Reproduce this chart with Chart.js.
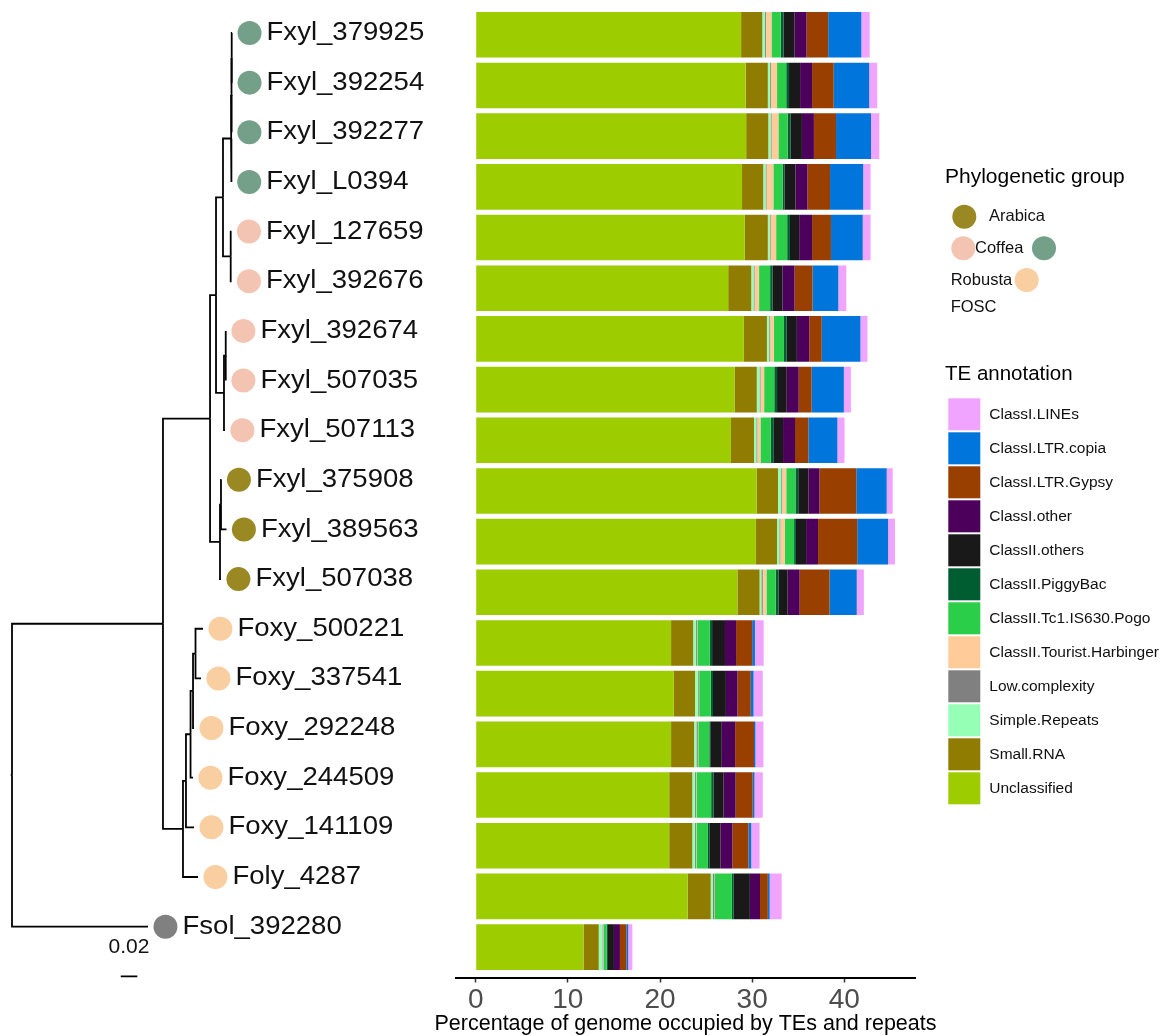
<!DOCTYPE html>
<html>
<head>
<meta charset="utf-8">
<script src="https://cdn.jsdelivr.net/npm/chart.js@4.4.1/dist/chart.umd.min.js"></script>
<style>
  html, body { margin: 0; padding: 0; background: #ffffff; }
  #wrap { position: relative; width: 1166px; height: 1036px; overflow: hidden; background: #ffffff; }
  #tree { position: absolute; left: 0; top: 0; }
  #bars { position: absolute; left: 430px; top: 0; }
</style>
</head>
<body>
<div id="wrap">
  <canvas id="tree" width="470" height="1036"></canvas>
  <canvas id="bars" width="736" height="1036"></canvas>
</div>
<script>
// ---------------------------------------------------------------------------
// Isolates, in tree (top-to-bottom) order
// ---------------------------------------------------------------------------
const isolates = [
  'Fxyl_379925', 'Fxyl_392254', 'Fxyl_392277', 'Fxyl_L0394', 'Fxyl_127659',
  'Fxyl_392676', 'Fxyl_392674', 'Fxyl_507035', 'Fxyl_507113', 'Fxyl_375908',
  'Fxyl_389563', 'Fxyl_507038', 'Foxy_500221', 'Foxy_337541', 'Foxy_292248',
  'Foxy_244509', 'Foxy_141109', 'Foly_4287', 'Fsol_392280'
];

const phyloGroup = [
  'Robusta', 'Robusta', 'Robusta', 'Robusta', 'Coffea',
  'Coffea', 'Coffea', 'Coffea', 'Coffea', 'Arabica',
  'Arabica', 'Arabica', 'FOSC', 'FOSC', 'FOSC',
  'FOSC', 'FOSC', 'FOSC', null
];

// Root-to-tip distance of every isolate (substitutions per site)
const tipDepth = [
  0.2652, 0.2652, 0.2650, 0.2648, 0.2645,
  0.2645, 0.2578, 0.2578, 0.2566, 0.2524,
  0.2584, 0.2518, 0.2301, 0.2277, 0.2193,
  0.2181, 0.2193, 0.2241, 0.1639
];

// Internal nodes: name, root distance, children
const nodeNames = ['A12', 'A123', 'A', 'B', 'AB', 'C12', 'C', 'ABC', 'D12', 'D', 'Fxyl',
                   'O12', 'O123', 'O4', 'O5', 'FOSC', 'Ingroup', 'Root'];
const nodeDepth = [0.2647, 0.2642, 0.2639, 0.2635, 0.2542, 0.2572, 0.2554, 0.2458, 0.2518, 0.2506, 0.2386,
                   0.2211, 0.2181, 0.2151, 0.2096, 0.2060, 0.1819, 0.0];
const nodeChildren = [
  ['Fxyl_379925', 'Fxyl_392254'],
  ['A12', 'Fxyl_392277'],
  ['A123', 'Fxyl_L0394'],
  ['Fxyl_127659', 'Fxyl_392676'],
  ['A', 'B'],
  ['Fxyl_392674', 'Fxyl_507035'],
  ['C12', 'Fxyl_507113'],
  ['AB', 'C'],
  ['Fxyl_375908', 'Fxyl_389563'],
  ['D12', 'Fxyl_507038'],
  ['ABC', 'D'],
  ['Foxy_500221', 'Foxy_337541'],
  ['O12', 'Foxy_292248'],
  ['O123', 'Foxy_244509'],
  ['O4', 'Foxy_141109'],
  ['O5', 'Foly_4287'],
  ['Fxyl', 'FOSC'],
  ['Ingroup', 'Fsol_392280']
];
const rootEdge = 0.0015;
const scaleBarLength = 0.02;

// ---------------------------------------------------------------------------
// Repeat content (% of genome) per TE class, one value per isolate
// ---------------------------------------------------------------------------
const teClasses = [
  'Unclassified', 'Small.RNA', 'Simple.Repeats', 'Low.complexity',
  'ClassII.Tourist.Harbinger', 'ClassII.Tc1.IS630.Pogo', 'ClassII.PiggyBac',
  'ClassII.others', 'ClassI.other', 'ClassI.LTR.Gypsy', 'ClassI.LTR.copia', 'ClassI.LINEs'
];
const unclassified  = [28.8, 29.3, 29.35, 28.9, 29.2, 27.4, 29.1, 28.1, 27.7, 30.5, 30.4, 28.4, 21.2, 21.5, 21.2, 21.0, 21.0, 23.0, 11.7];
const smallRNA      = [2.3, 2.4, 2.4, 2.3, 2.5, 2.5, 2.5, 2.4, 2.5, 2.3, 2.3, 2.4, 2.4, 2.3, 2.5, 2.5, 2.5, 2.5, 1.65];
const simpleRepeats = [0.3, 0.25, 0.25, 0.25, 0.2, 0.25, 0.25, 0.3, 0.25, 0.35, 0.25, 0.2, 0.3, 0.3, 0.25, 0.3, 0.3, 0.25, 0.4];
const lowComplexity = [0.1, 0.1, 0.1, 0.1, 0.1, 0.1, 0.1, 0.1, 0.1, 0.1, 0.1, 0.15, 0.1, 0.1, 0.15, 0.1, 0.1, 0.15, 0.1];
const touristHarb   = [0.6, 0.65, 0.75, 0.75, 0.6, 0.5, 0.4, 0.4, 0.35, 0.45, 0.5, 0.4, 0.05, 0.05, 0.05, 0.05, 0.05, 0.05, 0.05];
const tc1Pogo       = [1.0, 1.0, 1.0, 1.0, 1.2, 1.2, 1.1, 1.1, 1.1, 1.0, 1.0, 1.0, 1.35, 1.25, 1.2, 1.6, 1.25, 1.85, 0.3];
const piggyBac      = [0.3, 0.3, 0.3, 0.2, 0.3, 0.25, 0.3, 0.3, 0.35, 0.3, 0.2, 0.3, 0.25, 0.25, 0.1, 0.25, 0.15, 0.2, 0.15];
const classIIothers = [1.2, 1.2, 1.25, 1.2, 1.0, 1.1, 1.1, 1.05, 1.0, 1.1, 1.1, 1.0, 1.4, 1.4, 1.25, 1.1, 1.2, 1.75, 0.65];
const classIother   = [1.3, 1.3, 1.3, 1.3, 1.4, 1.3, 1.35, 1.3, 1.3, 1.2, 1.3, 1.3, 1.2, 1.25, 1.45, 1.3, 1.3, 1.1, 0.65];
const ltrGypsy      = [2.35, 2.35, 2.4, 2.45, 2.05, 1.95, 1.35, 1.4, 1.45, 4.0, 4.25, 3.25, 1.75, 1.45, 2.05, 1.85, 1.75, 0.85, 0.7];
const ltrCopia      = [3.6, 3.85, 3.8, 3.6, 3.45, 2.8, 4.2, 3.5, 3.15, 3.3, 3.35, 2.95, 0.3, 0.3, 0.15, 0.2, 0.3, 0.2, 0.2];
const classILINEs   = [0.9, 0.87, 0.9, 0.8, 0.85, 0.87, 0.76, 0.76, 0.77, 0.65, 0.75, 0.77, 0.95, 1.0, 0.87, 0.9, 0.9, 1.3, 0.45];

const teSeries = [unclassified, smallRNA, simpleRepeats, lowComplexity, touristHarb, tc1Pogo,
                  piggyBac, classIIothers, classIother, ltrGypsy, ltrCopia, classILINEs];

const xTicks = [0, 10, 20, 30, 40];
const xTitle = 'Percentage of genome occupied by TEs and repeats';

// ---------------------------------------------------------------------------
// Styling
// ---------------------------------------------------------------------------
const FONT = '"Liberation Sans", Arial, Helvetica, sans-serif';
Chart.defaults.font.family = FONT;

const teColors = ['#9DCC00', '#8F7C00', '#94FFB5', '#808080', '#FFCC99', '#2BCE48',
                  '#005C31', '#191919', '#4C005C', '#993F00', '#0075DC', '#F0A3FF'];
const groupColors = { Arabica: '#9A8822', Coffea: '#F4C4B2', Robusta: '#74A089', FOSC: '#F9CEA0' };
const noGroupColor = '#808080';
const TIP_POINT_OFFSET = 0.021;

// ---------------------------------------------------------------------------
// Tree layout: tips on rows, internal nodes at the mean row of their children
// ---------------------------------------------------------------------------
const nodeInfo = {};
isolates.forEach((name, i) => { nodeInfo[name] = { x: tipDepth[i], y: i }; });
nodeNames.forEach((name, k) => {
  const ys = nodeChildren[k].map(c => nodeInfo[c].y);
  nodeInfo[name] = { x: nodeDepth[k], y: ys.reduce((a, b) => a + b, 0) / ys.length };
});

const treeDatasets = [];
treeDatasets.push({
  label: 'tips',
  data: isolates.map((n, i) => ({ x: tipDepth[i] + TIP_POINT_OFFSET, y: i })),
  pointRadius: 12,
  pointBackgroundColor: phyloGroup.map(g => g ? groupColors[g] : noGroupColor),
  pointBorderWidth: 0,
  pointHoverRadius: 12,
  showLine: false
});
const edgeStyle = { showLine: true, borderColor: '#000000', borderWidth: 1.8, pointRadius: 0,
                    fill: false, tension: 0, borderJoinStyle: 'miter', borderCapStyle: 'butt' };
nodeNames.forEach((name, k) => {
  const p = nodeInfo[name];
  nodeChildren[k].forEach(c => {
    const ch = nodeInfo[c];
    treeDatasets.push(Object.assign({
      label: name + '-' + c,
      data: [{ x: p.x, y: p.y }, { x: p.x, y: ch.y }, { x: ch.x, y: ch.y }]
    }, edgeStyle));
  });
});
const rootNode = nodeInfo['Root'];
treeDatasets.push(Object.assign({
  label: 'root',
  data: [{ x: -rootEdge, y: rootNode.y }, { x: 0, y: rootNode.y }]
}, edgeStyle));
// scale bar, placed below the last tip
const scaleBarX = 0.131, scaleBarRow = 19.0;
treeDatasets.push(Object.assign({
  label: 'scale',
  data: [{ x: scaleBarX, y: scaleBarRow }, { x: scaleBarX + scaleBarLength, y: scaleBarRow }]
}, edgeStyle));

const tipLabelPlugin = {
  id: 'tipLabels',
  afterDatasetsDraw(chart) {
    const { ctx, scales: { x, y } } = chart;
    ctx.save();
    ctx.fillStyle = '#111111';
    ctx.textBaseline = 'middle';
    ctx.textAlign = 'left';
    ctx.font = '25.5px ' + FONT;
    isolates.forEach((name, i) => {
      const px = x.getPixelForValue(tipDepth[i] + TIP_POINT_OFFSET) + 17;
      const py = y.getPixelForValue(i);
      ctx.save();
      ctx.translate(px, py);
      ctx.scale(1.08, 1);
      ctx.fillText(name, 0, 0);
      ctx.restore();
    });
    // scale bar value
    ctx.font = '21px ' + FONT;
    ctx.textAlign = 'center';
    ctx.fillText(String(scaleBarLength), x.getPixelForValue(scaleBarX + scaleBarLength / 2),
                 y.getPixelForValue(scaleBarRow - 0.58));
    ctx.restore();
  }
};

new Chart(document.getElementById('tree'), {
  type: 'scatter',
  data: { datasets: treeDatasets },
  options: {
    responsive: false,
    animation: false,
    events: [],
    layout: { autoPadding: false, padding: { top: 3.2, bottom: 29.9, left: 0, right: 0 } },
    scales: {
      x: { type: 'linear', min: -0.014458, max: 0.551807, display: false, offset: false },
      y: { type: 'linear', min: -0.6, max: 19.6, reverse: true, display: false, offset: false }
    },
    plugins: { legend: { display: false }, tooltip: { enabled: false } }
  },
  plugins: [tipLabelPlugin]
});

// ---------------------------------------------------------------------------
// Stacked bars + axis title + legends
// ---------------------------------------------------------------------------
const CANVAS_LEFT = 430;

const legendPlugin = {
  id: 'sideLegends',
  afterDraw(chart) {
    const ctx = chart.ctx;
    const X = v => v - CANVAS_LEFT;
    const area = chart.chartArea;
    ctx.save();
    ctx.textBaseline = 'middle';

    // x-axis title, centred under the panel (wider than the panel itself)
    ctx.textAlign = 'center';
    ctx.fillStyle = '#000000';
    ctx.font = '21.5px ' + FONT;
    ctx.fillText(xTitle, (area.left + area.right) / 2, 1024);

    ctx.textAlign = 'left';
    // Phylogenetic group
    ctx.font = '21px ' + FONT;
    ctx.fillText('Phylogenetic group', X(945), 177.5);
    const dot = (cx, cy, col) => {
      ctx.beginPath(); ctx.arc(X(cx), cy, 12, 0, Math.PI * 2);
      ctx.fillStyle = col; ctx.fill();
    };
    dot(964.3, 216.7, groupColors.Arabica);
    dot(963.3, 248.3, groupColors.Coffea);
    dot(1044, 248.3, groupColors.Robusta);
    dot(1026.7, 280, groupColors.FOSC);
    ctx.fillStyle = '#111111';
    ctx.font = '16.5px ' + FONT;
    ctx.fillText('Arabica', X(989), 216.7);
    ctx.fillText('Coffea', X(975), 248.3);
    ctx.fillText('Robusta', X(950.7), 280);
    ctx.fillText('FOSC', X(950.7), 307.7);

    // TE annotation
    ctx.fillStyle = '#000000';
    ctx.font = '20.5px ' + FONT;
    ctx.fillText('TE annotation', X(945), 374.8);
    ctx.font = '15.5px ' + FONT;
    const order = teClasses.map((_, i) => i).reverse();
    order.forEach((ci, k) => {
      const top = 398.3 + k * 34;
      ctx.fillStyle = teColors[ci];
      ctx.fillRect(X(948.3), top, 32, 32);
      ctx.fillStyle = '#111111';
      ctx.fillText(teClasses[ci], X(989.3), top + 16);
    });
    ctx.restore();
  }
};

new Chart(document.getElementById('bars'), {
  type: 'bar',
  data: {
    datasets: teClasses.map((cls, ci) => ({
      label: cls,
      data: teSeries[ci].map((v, i) => ({ x: v, y: i })),
      backgroundColor: teColors[ci],
      borderWidth: 0,
      categoryPercentage: 1.0,
      barPercentage: 0.9
    }))
  },
  options: {
    indexAxis: 'y',
    responsive: false,
    animation: false,
    events: [],
    layout: { autoPadding: false, padding: { top: 4.4, bottom: 0, left: 26, right: 251 } },
    scales: {
      x: {
        type: 'linear', stacked: true, position: 'bottom',
        min: -2.14, max: 47.67, offset: false,
        afterBuildTicks: s => { s.ticks = xTicks.map(v => ({ value: v })); },
        afterFit: s => { s.height = 58.5; },
        border: { display: true, color: '#000000', width: 2 },
        grid: { display: true, drawOnChartArea: false, drawTicks: true, tickLength: 5, tickWidth: 1.5, tickColor: '#333333' },
        ticks: { color: '#4D4D4D', font: { size: 28, family: FONT }, padding: 1, maxRotation: 0 },
        title: { display: false }
      },
      y: {
        type: 'linear', stacked: true, reverse: true, min: -0.6, max: 18.6, display: false, offset: false,
        afterBuildTicks: s => { s.ticks = isolates.map((_, i) => ({ value: i })); }
      }
    },
    plugins: { legend: { display: false }, tooltip: { enabled: false } }
  },
  plugins: [legendPlugin]
});
</script>
</body>
</html>
